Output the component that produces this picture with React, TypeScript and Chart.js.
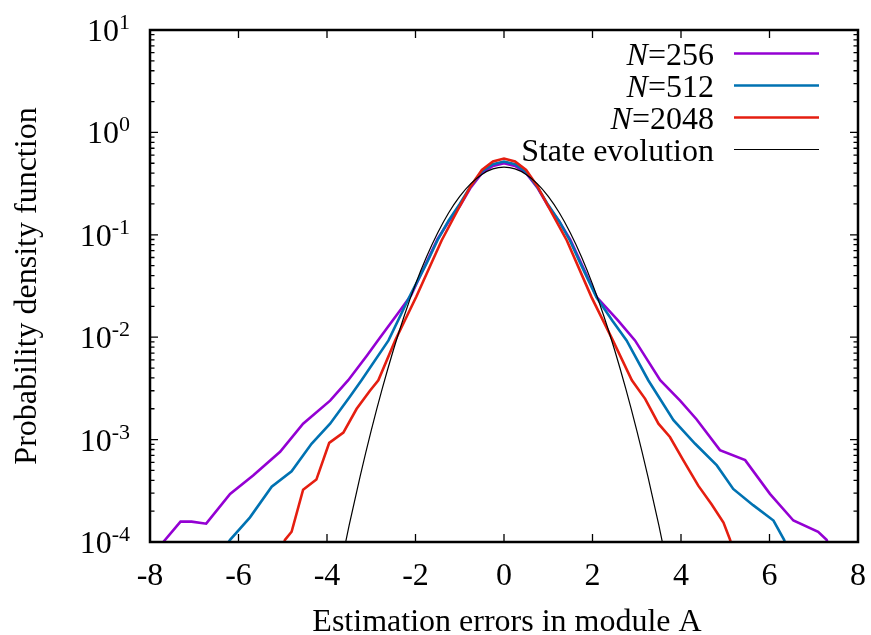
import React, { useEffect, useRef } from 'react';
import { Chart, registerables } from 'chart.js';

Chart.register(...registerables);

// ---------- data ----------
const n256X = [-7.7, -7.31, -7.06, -6.73, -6.19, -5.67, -5.06, -4.54, -3.93, -3.52, -3.1, -2.85, -2.35, -2.1, -1.75, -1.5, -1.25, -1.0, -0.75, -0.5, -0.25, 0, 0.25, 0.5, 0.75, 1.0, 1.25, 1.5, 1.75, 2.1, 2.58, 2.96, 3.53, 3.98, 4.35, 4.88, 5.45, 6.01, 6.54, 7.1, 7.29, 7.45];
const n256Y = [1.0e-4, 1.58e-4, 1.58e-4, 1.51e-4, 2.95e-4, 4.47e-4, 7.6e-4, 1.43e-3, 2.4e-3, 3.8e-3, 6.6e-3, 9.3e-3, 1.82e-2, 2.57e-2, 5.4e-2, 9.1e-2, 0.135, 0.19, 0.29, 0.4, 0.47, 0.5, 0.47, 0.4, 0.29, 0.19, 0.135, 0.089, 0.052, 0.0245, 0.0145, 9.3e-3, 3.8e-3, 2.4e-3, 1.58e-3, 7.9e-4, 6.3e-4, 2.95e-4, 1.62e-4, 1.26e-4, 1.05e-4, 7.0e-5];

const n512X = [-6.3, -6.19, -5.74, -5.25, -4.8, -4.35, -3.93, -3.48, -3.22, -2.61, -2.12, -1.75, -1.5, -1.25, -1.0, -0.75, -0.5, -0.25, 0, 0.25, 0.5, 0.75, 1.0, 1.25, 1.49, 1.75, 2.09, 2.45, 2.77, 3.26, 3.83, 4.32, 4.81, 5.18, 5.63, 6.09, 6.33, 6.4];
const n512Y = [8.9e-5, 1.05e-4, 1.74e-4, 3.47e-4, 4.9e-4, 9.1e-4, 1.43e-3, 2.63e-3, 3.8e-3, 9.3e-3, 2.57e-2, 5.25e-2, 8.9e-2, 0.138, 0.2, 0.3, 0.415, 0.49, 0.52, 0.49, 0.41, 0.295, 0.195, 0.135, 0.088, 0.05, 0.0245, 0.0145, 9.3e-3, 3.8e-3, 1.55e-3, 9.1e-4, 5.6e-4, 3.3e-4, 2.29e-4, 1.62e-4, 1.05e-4, 8.5e-5];

const n2048X = [-5.0, -4.95, -4.8, -4.54, -4.24, -3.95, -3.63, -3.33, -3.03, -2.84, -2.46, -1.98, -1.41, -1.0, -0.75, -0.5, -0.25, 0, 0.25, 0.5, 0.75, 1.0, 1.42, 1.98, 2.46, 2.89, 3.19, 3.49, 3.75, 4.05, 4.39, 4.69, 4.96, 5.11, 5.15];
const n2048Y = [8.9e-5, 1.05e-4, 1.26e-4, 3.24e-4, 4.07e-4, 9.3e-4, 1.17e-3, 2.0e-3, 3.0e-3, 3.8e-3, 9.3e-3, 2.5e-2, 8.8e-2, 0.19, 0.3, 0.43, 0.52, 0.555, 0.52, 0.43, 0.3, 0.19, 0.088, 0.0245, 9.3e-3, 3.8e-3, 2.5e-3, 1.43e-3, 1.06e-3, 6.3e-4, 3.55e-4, 2.34e-4, 1.55e-4, 1.05e-4, 8.9e-5];

const seX = [-3.75, -3.5, -3.25, -3.0, -2.75, -2.5, -2.25, -2.0, -1.75, -1.5, -1.25, -1.0, -0.75, -0.5, -0.25, 0, 0.25, 0.5, 0.75, 1.0, 1.25, 1.5, 1.75, 2.0, 2.25, 2.5, 2.75, 3.0, 3.25, 3.5, 3.75];
const seY = [4.4e-5, 1.45e-4, 4.4e-4, 1.23e-3, 3.16e-3, 7.5e-3, 1.64e-2, 3.3e-2, 6.1e-2, 0.104, 0.164, 0.237, 0.316, 0.389, 0.44, 0.458, 0.44, 0.389, 0.316, 0.237, 0.164, 0.104, 6.1e-2, 3.3e-2, 1.64e-2, 7.5e-3, 3.16e-3, 1.23e-3, 4.4e-4, 1.45e-4, 4.4e-5];

const seriesLabels = ['N=256', 'N=512', 'N=2048', 'State evolution'];
const seriesColors = ['#9400d3', '#0072b2', '#e51e10', '#000000'];

const xTicks = [-8, -6, -4, -2, 0, 2, 4, 6, 8];
const yDecades = [-4, -3, -2, -1, 0, 1];
const minorMantissas = [2, 3, 4, 5, 6, 7, 8, 9];

const xTitle = 'Estimation errors in module A';
const yTitle = 'Probability density function';

const FONT = '"Liberation Serif", "Times New Roman", serif';

const toPts = (xs: number[], ys: number[]) => xs.map((x, i) => ({ x, y: ys[i] }));

const overlayPlugin = {
  id: 'overlay',
  afterDatasetsDraw(chart: any) {
    const { ctx, chartArea: a, scales } = chart;
    const xs = scales.x;
    const ys = scales.y;
    ctx.save();

    // ticks (inward, mirrored)
    ctx.strokeStyle = '#000';
    ctx.lineWidth = 1.3;
    ctx.beginPath();
    for (const t of xTicks) {
      const px = xs.getPixelForValue(t);
      ctx.moveTo(px, a.bottom);
      ctx.lineTo(px, a.bottom - 8);
      ctx.moveTo(px, a.top);
      ctx.lineTo(px, a.top + 8);
    }
    for (const d of yDecades) {
      const major = Math.pow(10, d);
      const pm = ys.getPixelForValue(major);
      ctx.moveTo(a.left, pm);
      ctx.lineTo(a.left + 8, pm);
      ctx.moveTo(a.right, pm);
      ctx.lineTo(a.right - 8, pm);
      if (d < yDecades[yDecades.length - 1]) {
        for (const m of minorMantissas) {
          const py = ys.getPixelForValue(m * major);
          ctx.moveTo(a.left, py);
          ctx.lineTo(a.left + 4.5, py);
          ctx.moveTo(a.right, py);
          ctx.lineTo(a.right - 4.5, py);
        }
      }
    }
    ctx.stroke();

    // frame
    ctx.lineWidth = 2.5;
    ctx.strokeRect(a.left, a.top, a.right - a.left, a.bottom - a.top);

    ctx.fillStyle = '#000';
    // y tick labels 10^d
    const mainFont = `32px ${FONT}`;
    const supFont = `22px ${FONT}`;
    for (const d of yDecades) {
      const py = ys.getPixelForValue(Math.pow(10, d));
      const exp = String(d);
      ctx.font = supFont;
      const wSup = ctx.measureText(exp).width;
      ctx.font = mainFont;
      const wMain = ctx.measureText('10').width;
      const right = a.left - 20;
      ctx.textAlign = 'left';
      ctx.textBaseline = 'alphabetic';
      ctx.fillText('10', right - wSup - wMain, py + 11);
      ctx.font = supFont;
      ctx.fillText(exp, right - wSup, py - 1);
    }

    // x tick labels
    ctx.font = mainFont;
    ctx.textAlign = 'center';
    ctx.textBaseline = 'alphabetic';
    for (const t of xTicks) {
      const px = xs.getPixelForValue(t);
      ctx.fillText(String(t), px, a.bottom + 43);
    }

    // axis titles
    ctx.fillText(xTitle, (a.left + a.right) / 2 + 3, a.bottom + 89);
    ctx.save();
    ctx.translate(36, (a.top + a.bottom) / 2);
    ctx.rotate(-Math.PI / 2);
    ctx.fillText(yTitle, 0, 0);
    ctx.restore();

    // legend
    const textRight = a.right - 144;
    const lineL = a.right - 124;
    const lineR = a.right - 39;
    chart.data.datasets.forEach((ds: any, i: number) => {
      const rowY = a.top + 23.5 + i * 32;
      const label: string = ds.label;
      ctx.textAlign = 'right';
      ctx.textBaseline = 'alphabetic';
      ctx.fillStyle = '#000';
      if (label.startsWith('N=')) {
        const rest = label.slice(1);
        ctx.font = mainFont;
        const wRest = ctx.measureText(rest).width;
        ctx.fillText(rest, textRight, rowY + 11.5);
        ctx.font = `italic 32px ${FONT}`;
        ctx.fillText('N', textRight - wRest, rowY + 11.5);
      } else {
        ctx.font = mainFont;
        ctx.fillText(label, textRight, rowY + 11.5);
      }
      ctx.strokeStyle = ds.borderColor;
      ctx.lineWidth = ds.borderWidth;
      ctx.beginPath();
      ctx.moveTo(lineL, rowY);
      ctx.lineTo(lineR, rowY);
      ctx.stroke();
    });

    ctx.restore();
  },
};

export default function App() {
  const ref = useRef<HTMLCanvasElement | null>(null);

  useEffect(() => {
    if (!ref.current) return;
    const data = [toPts(n256X, n256Y), toPts(n512X, n512Y), toPts(n2048X, n2048Y), toPts(seX, seY)];
    const chart = new Chart(ref.current, {
      type: 'line',
      data: {
        datasets: data.map((pts, i) => ({
          label: seriesLabels[i],
          data: pts,
          borderColor: seriesColors[i],
          backgroundColor: seriesColors[i],
          borderWidth: i === 3 ? 1.2 : 2.6,
          pointRadius: 0,
          fill: false,
          tension: 0,
          cubicInterpolationMode: i === 3 ? 'monotone' : 'default',
          order: 4 - i,
        })),
      },
      options: {
        responsive: false,
        animation: false,
        devicePixelRatio: 1,
        parsing: true,
        layout: { padding: { left: 150, right: 13, top: 30, bottom: 93 } },
        plugins: { legend: { display: false }, title: { display: false }, tooltip: { enabled: false } },
        scales: {
          x: { type: 'linear', min: -8, max: 8, display: false },
          y: { type: 'logarithmic', min: 1e-4, max: 10, display: false },
        },
      },
      plugins: [overlayPlugin],
    } as any);
    return () => chart.destroy();
  }, []);

  return (
    <div style={{ position: 'absolute', left: 0, top: 0, width: 871, height: 635, background: '#fff' }}>
      <canvas ref={ref} width={871} height={635} style={{ width: 871, height: 635 }} />
    </div>
  );
}
